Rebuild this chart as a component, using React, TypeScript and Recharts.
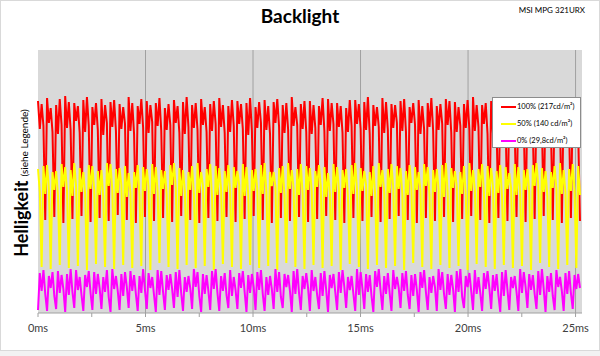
import React from "react";
import {
  LineChart,
  Line,
  XAxis,
  YAxis,
  CartesianGrid,
  ReferenceLine,
} from "recharts";

document.body.style.margin = "0";

// one sample every 0.0843 ms, 5 samples per flicker period
const SAMPLE_MS = 0.0843;

const X_TICKS = [0, 2.5, 5, 7.5, 10, 12.5, 15, 17.5, 20, 22.5, 25];
const GRID_X = [5, 10, 15, 20, 25];

const SERIES_NAMES = ["100% (217cd/m²)", "50% (140 cd/m²)", "0% (29,8cd/m²)"];

const RED = [
  212, 184, 209, 187, 93, 215, 190, 205, 181, 96, 208, 179, 214, 188, 90,
  217, 185, 211, 183, 94, 210, 192, 207, 180, 97, 213, 181, 216, 187, 91,
  206, 188, 210, 183, 95, 214, 178, 208, 190, 92, 211, 186, 213, 182, 98,
  209, 184, 206, 189, 93, 216, 182, 210, 179, 90, 207, 189, 214, 185, 96,
  212, 180, 208, 191, 92, 210, 187, 215, 182, 95, 205, 183, 209, 188, 91,
  213, 190, 207, 180, 97, 211, 179, 216, 186, 93, 208, 185, 210, 183, 90,
  214, 188, 206, 181, 95, 209, 182, 212, 189, 92, 215, 186, 208, 180, 96,
  207, 181, 213, 187, 91, 212, 189, 209, 184, 94, 210, 178, 215, 182, 97,
  206, 185, 211, 190, 93, 213, 183, 207, 179, 90, 211, 190, 214, 186, 95,
  208, 180, 210, 183, 92, 216, 187, 206, 188, 96, 209, 184, 212, 181, 91,
  212, 179, 208, 185, 94, 207, 188, 215, 182, 97, 214, 182, 210, 189, 93,
  210, 186, 207, 180, 90, 205, 181, 213, 187, 95, 213, 189, 209, 184, 92,
  211, 183, 216, 179, 96, 208, 187, 206, 186, 91, 215, 180, 211, 183, 94,
  209, 185, 208, 190, 97, 212, 182, 214, 181, 93, 206, 190, 210, 188, 90,
  213, 179, 207, 184, 95, 210, 186, 215, 182, 92, 207, 183, 209, 189, 96,
  214, 188, 212, 180, 91, 211, 181, 206, 187, 94, 209, 185, 213, 183, 97,
  216, 182, 208, 186, 93, 208, 189, 210, 179, 90, 212, 180, 214, 185, 95,
  210, 187, 207, 188, 92, 205, 184, 211, 182, 96, 213, 178, 209, 190, 91,
  211, 186, 216, 183, 94, 208, 183, 206, 187, 97, 214, 190, 212, 181, 93,
  209, 181, 208, 186, 90, 212, 188, 213, 184, 95, 210, 185, 209, 182, 92,
];

const YELLOW = [
  144, 121, 46, 147, 119, 148, 125, 44, 141, 123, 142, 118, 48, 149, 126,
  146, 122, 45, 143, 117, 150, 127, 47, 145, 121, 141, 119, 43, 148, 124,
  147, 124, 49, 142, 118, 143, 116, 46, 150, 127, 149, 123, 44, 144, 120,
  145, 128, 48, 147, 116, 140, 120, 45, 141, 125, 148, 117, 47, 146, 122,
  144, 126, 43, 149, 119, 146, 121, 50, 143, 124, 142, 118, 46, 148, 128,
  150, 125, 44, 145, 117, 143, 122, 48, 141, 123, 147, 119, 45, 150, 120,
  141, 127, 47, 144, 126, 149, 116, 43, 147, 118, 145, 124, 49, 142, 121,
  148, 120, 46, 146, 125, 142, 128, 44, 149, 117, 146, 118, 48, 143, 122,
  144, 123, 45, 148, 119, 150, 121, 47, 141, 127, 141, 126, 43, 145, 120,
  147, 117, 50, 150, 124, 143, 125, 46, 144, 118, 149, 119, 44, 147, 123,
  145, 122, 48, 142, 126, 148, 127, 45, 146, 116, 140, 120, 47, 149, 121,
  146, 124, 43, 143, 125, 144, 116, 49, 148, 119, 150, 123, 46, 145, 122,
  142, 128, 44, 141, 117, 147, 118, 48, 150, 126, 143, 121, 45, 144, 120,
  149, 125, 47, 147, 124, 145, 119, 43, 142, 118, 148, 126, 50, 146, 123,
  141, 122, 46, 149, 127, 146, 117, 44, 143, 121, 144, 124, 48, 148, 116,
  150, 120, 45, 145, 125, 142, 127, 47, 141, 119, 147, 118, 43, 150, 122,
  143, 123, 49, 144, 126, 149, 121, 46, 147, 117, 145, 126, 44, 142, 120,
  148, 116, 48, 146, 124, 140, 125, 45, 149, 118, 146, 119, 47, 143, 123,
  144, 122, 43, 148, 127, 150, 128, 50, 145, 121, 142, 117, 46, 141, 125,
  147, 124, 44, 150, 119, 143, 120, 48, 144, 122, 149, 123, 45, 147, 118,
];

const MAGENTA = [
  3, 40, 22, 43, 19, 2, 37, 25, 41, 17, 4, 42, 20, 38, 24, 1, 39, 18, 44, 21,
  5, 43, 23, 36, 18, 2, 38, 26, 42, 20, 3, 41, 19, 39, 25, 4, 36, 21, 43, 16,
  1, 44, 24, 37, 22, 3, 39, 17, 41, 26, 5, 42, 22, 38, 19, 2, 37, 20, 44, 23,
  4, 40, 25, 36, 18, 1, 43, 18, 42, 21, 3, 38, 23, 39, 24, 5, 41, 16, 43, 20,
  2, 36, 21, 37, 25, 4, 44, 26, 41, 17, 1, 39, 19, 38, 22, 3, 42, 24, 44, 20,
  2, 37, 22, 40, 18, 5, 43, 17, 36, 23, 4, 40, 25, 42, 21, 1, 38, 20, 39, 26,
  3, 41, 23, 43, 19, 2, 36, 18, 37, 24, 4, 44, 21, 41, 16, 5, 39, 26, 38, 22,
  1, 42, 19, 44, 20, 3, 37, 24, 40, 25, 2, 43, 22, 36, 18, 4, 40, 17, 42, 23,
  1, 38, 25, 39, 21, 3, 41, 20, 43, 26, 5, 36, 23, 37, 19, 2, 44, 18, 41, 24,
  4, 39, 21, 38, 17, 1, 42, 26, 44, 22, 3, 37, 19, 40, 20, 2, 43, 24, 36, 25,
  5, 40, 22, 42, 18, 4, 38, 17, 39, 23, 1, 41, 25, 43, 21, 3, 36, 20, 37, 26,
  2, 44, 23, 41, 19, 4, 39, 18, 38, 24, 1, 42, 21, 44, 16, 5, 37, 26, 40, 22,
  3, 43, 19, 36, 20, 2, 40, 24, 42, 25, 4, 38, 22, 39, 18, 1, 41, 17, 43, 23,
  3, 36, 25, 37, 21, 2, 44, 20, 41, 26, 5, 39, 23, 38, 19, 4, 42, 18, 44, 24,
  1, 37, 21, 40, 17, 3, 43, 26, 36, 22, 2, 40, 19, 42, 20, 4, 38, 24, 39, 25,
];

const LEGEND_COLORS = ["#ff0000", "#ffff00", "#ff00ff"];

const data = RED.map((r, i) => ({
  t: i * SAMPLE_MS,
  red: r,
  yellow: YELLOW[i],
  magenta: MAGENTA[i],
}));

const FONT = "Lato, 'Open Sans', sans-serif";

const LegendBox = () => (
  <div
    style={{
      position: "absolute",
      left: 492,
      top: 97,
      width: 87,
      height: 49,
      background: "#fff",
      border: "1px solid #8c8c8c",
      fontFamily: FONT,
      fontSize: 7.5,
      color: "#000",
    }}
  >
    {SERIES_NAMES.map((name, i) => (
      <div
        key={i}
        style={{
          display: "flex",
          alignItems: "center",
          height: 17,
          paddingLeft: 8,
          whiteSpace: "nowrap",
        }}
      >
        <span
          style={{
            display: "inline-block",
            width: 15,
            height: 2,
            background: LEGEND_COLORS[i],
            marginRight: 1,
          }}
        />
        {name}
      </div>
    ))}
  </div>
);

const App = () => {
  return (
    <div
      style={{
        position: "relative",
        width: 600,
        height: 356,
        background: "#f2f2f2",
        fontFamily: FONT,
      }}
    >
      <div
        style={{
          position: "absolute",
          left: 0,
          top: 0,
          width: 598,
          height: 349,
          background: "#fff",
          border: "1px solid #d9d9d9",
        }}
      />

      {/* Title */}
      <div
        style={{
          position: "absolute",
          top: 4,
          left: 0,
          width: 600,
          textAlign: "center",
          fontSize: 19,
          fontWeight: 700,
          color: "#000",
        }}
      >
        Backlight
      </div>
      <div
        style={{
          position: "absolute",
          top: 5,
          right: 15,
          fontSize: 8,
          color: "#000",
        }}
      >
        MSI MPG 321URX
      </div>

      {/* Y label */}
      <svg
        width={40}
        height={300}
        style={{ position: "absolute", left: 0, top: 40 }}
      >
        <text
          transform="translate(28,143) rotate(-90)"
          textAnchor="middle"
          fontFamily={FONT}
          fill="#000"
        >
          <tspan fontSize={18} fontWeight={700}>
            Helligkeit
          </tspan>
          <tspan fontSize={10} dx={4}>
            (siehe Legende)
          </tspan>
        </text>
      </svg>

      <div style={{ position: "absolute", left: 0, top: 0 }}>
        <LineChart
          width={600}
          height={356}
          data={data}
          margin={{ top: 50, right: 18, left: 38, bottom: 13 }}
        >
          <CartesianGrid
            fill="#d9d9d9"
            horizontal={false}
            vertical={false}
            stroke="none"
          />
          {GRID_X.map((x) => (
            <ReferenceLine key={x} x={x} stroke="#a0a0a0" strokeWidth={1} />
          ))}
          <XAxis
            dataKey="t"
            type="number"
            domain={[0, 25.3]}
            ticks={X_TICKS}
            interval={0}
            height={30}
            tickSize={4}
            tickMargin={7}
            tickFormatter={(v: number) => (v % 5 === 0 ? `${v}ms` : "")}
            tick={{ fill: "#404040", fontSize: 11, fontFamily: FONT }}
            axisLine={{ stroke: "#a0a0a0" }}
            tickLine={{ stroke: "#a0a0a0" }}
          />
          <YAxis
            width={0}
            domain={[0, 263]}
            tick={false}
            tickLine={false}
            axisLine={{ stroke: "#a0a0a0", strokeWidth: 2 }}
          />
          <Line
            dataKey="red"
            name={SERIES_NAMES[0]}
            stroke="#ff0000"
            strokeWidth={2}
            dot={false}
            isAnimationActive={false}
          />
          <Line
            dataKey="yellow"
            name={SERIES_NAMES[1]}
            stroke="#ffff00"
            strokeWidth={2}
            dot={false}
            isAnimationActive={false}
          />
          <Line
            dataKey="magenta"
            name={SERIES_NAMES[2]}
            stroke="#ff00ff"
            strokeWidth={2}
            dot={false}
            isAnimationActive={false}
          />
        </LineChart>
      </div>

      <LegendBox />
    </div>
  );
};

export default App;
